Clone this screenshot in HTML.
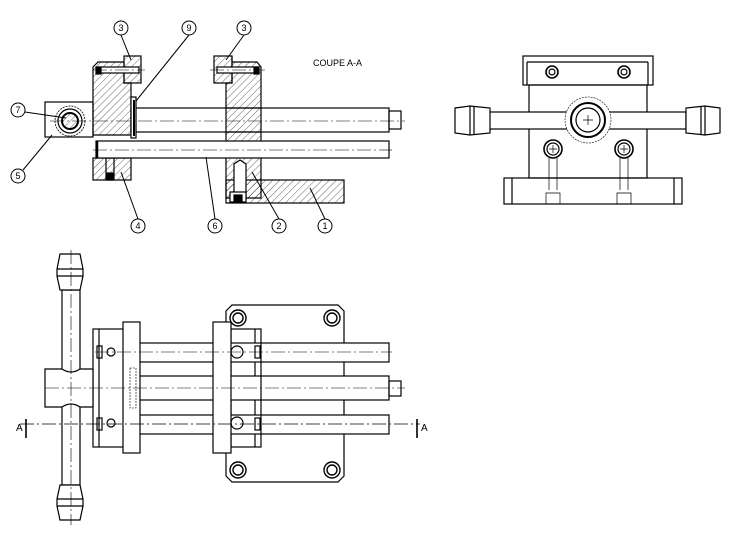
<!DOCTYPE html>
<html><head><meta charset="utf-8"><style>
html,body{margin:0;padding:0;background:#fff;}
svg{display:block;}
text{font-family:"Liberation Sans",sans-serif;}
</style></head><body>
<svg width="732" height="533" viewBox="0 0 732 533" xmlns="http://www.w3.org/2000/svg">
<defs>
<pattern id="h" width="5" height="5" patternUnits="userSpaceOnUse" patternTransform="rotate(45)">
<line x1="0" y1="0" x2="0" y2="5" stroke="#000" stroke-width="0.6"/>
</pattern>
</defs>
<g fill="none" stroke="#000" stroke-width="1.2">
<!-- ===== SECTION VIEW ===== -->
<!-- left block -->
<path d="M93,67 L98,62 L124,62 L124,83 L131,83 L131,135 L93,135 Z" fill="url(#h)"/>
<rect x="93" y="158" width="38" height="22" fill="url(#h)"/>
<rect x="124" y="56" width="17" height="27" fill="url(#h)"/>
<rect x="97" y="67" width="42" height="6" fill="#fff"/>
<rect x="96" y="67" width="5" height="7" fill="#000"/>
<rect x="106" y="158" width="8" height="22"/>
<rect x="107" y="173" width="6" height="7" fill="#000"/>
<!-- right block -->
<path d="M232,56 L232,62 L257,62 L261,67 L261,198 L226,198 L226,83 L232,83 Z" fill="url(#h)"/>
<rect x="214" y="56" width="18" height="27" fill="url(#h)"/>
<rect x="217" y="67" width="42" height="6" fill="#fff"/>
<rect x="254" y="67" width="5" height="7" fill="#000"/>
<rect x="226" y="180" width="118" height="23" fill="url(#h)"/>
<path d="M234,198 L234,164 L240,160 L246,164 L246,198" fill="#fff"/>
<rect x="230" y="192" width="16" height="10" fill="#fff"/>
<rect x="234" y="195" width="8" height="7" fill="#000"/>
<!-- handle hub and circle 7 -->
<rect x="45" y="102" width="48" height="35"/>
<circle cx="70" cy="121" r="15" stroke-dasharray="2 1" stroke-width="0.8"/>
<circle cx="70" cy="121" r="12"/>
<circle cx="70" cy="121" r="8" fill="url(#h)" stroke-width="2"/>
<!-- upper rod -->
<rect x="131" y="108" width="258" height="24" fill="#fff"/>
<rect x="389" y="111" width="12" height="18"/>
<rect x="226" y="108" width="35" height="24" fill="url(#h)"/>
<rect x="131" y="97" width="5" height="41" fill="#fff"/>
<line x1="134" y1="100" x2="134" y2="136" stroke-width="2"/>
<!-- lower rod -->
<rect x="96" y="141" width="293" height="17" fill="#fff"/>
<line x1="97" y1="141" x2="97" y2="158" stroke-width="2.5"/>
<!-- center lines -->
<g stroke-width="0.6" stroke-dasharray="14 3 2 3">
<line x1="50" y1="121" x2="405" y2="121"/>
<line x1="93" y1="150" x2="392" y2="150"/>
<line x1="93" y1="70" x2="145" y2="70"/>
<line x1="210" y1="70" x2="265" y2="70"/>
</g>
<!-- balloons -->
<g stroke-width="1">
<line x1="121" y1="35" x2="131" y2="60"/>
<line x1="189" y1="35" x2="136" y2="101"/>
<line x1="244" y1="35" x2="226" y2="60"/>
<line x1="25" y1="112" x2="66" y2="118"/>
<line x1="23" y1="170" x2="52" y2="135"/>
<line x1="138" y1="219" x2="121" y2="172"/>
<line x1="215" y1="219" x2="206" y2="157"/>
<line x1="279" y1="219" x2="252" y2="172"/>
<line x1="325" y1="219" x2="310" y2="188"/>
<circle cx="121" cy="28" r="7" fill="#fff"/>
<circle cx="189" cy="28" r="7" fill="#fff"/>
<circle cx="244" cy="28" r="7" fill="#fff"/>
<circle cx="18" cy="110" r="7" fill="#fff"/>
<circle cx="18" cy="176" r="7" fill="#fff"/>
<circle cx="138" cy="226" r="7" fill="#fff"/>
<circle cx="215" cy="226" r="7" fill="#fff"/>
<circle cx="279" cy="226" r="7" fill="#fff"/>
<circle cx="325" cy="226" r="7" fill="#fff"/>
</g>

<!-- ===== RIGHT VIEW ===== -->
<rect x="523" y="56" width="130" height="29"/>
<line x1="527" y1="62" x2="648" y2="62"/>
<line x1="527" y1="62" x2="527" y2="85"/><line x1="648" y1="62" x2="648" y2="85"/>
<rect x="529" y="85" width="118" height="93"/>
<line x1="529" y1="85" x2="647" y2="85" stroke-dasharray="2 1" stroke-width="0.6"/>
<rect x="504" y="178" width="178" height="26"/>
<line x1="512" y1="178" x2="512" y2="204"/><line x1="674" y1="178" x2="674" y2="204"/>
<rect x="463" y="112" width="223" height="17" fill="#fff"/>
<path d="M455,108 L470,106 L490,108 L490,133 L470,135 L455,133 Z" fill="#fff"/>
<line x1="470" y1="106" x2="470" y2="135"/><line x1="474" y1="106" x2="474" y2="135"/>
<path d="M720,108 L705,106 L686,108 L686,133 L705,135 L720,133 Z" fill="#fff"/>
<line x1="705" y1="106" x2="705" y2="135"/><line x1="701" y1="106" x2="701" y2="135"/>
<circle cx="588" cy="120" r="23" stroke-dasharray="2 1" stroke-width="0.6" fill="#fff"/>
<circle cx="588" cy="120" r="17" stroke-width="2"/>
<circle cx="588" cy="120" r="12"/>
<circle cx="552" cy="72" r="6" stroke-width="1.6"/><circle cx="552" cy="72" r="3"/>
<circle cx="624" cy="72" r="6" stroke-width="1.6"/><circle cx="624" cy="72" r="3"/>
<circle cx="553" cy="149" r="9" stroke-width="1.6"/><circle cx="553" cy="149" r="6"/>
<circle cx="624" cy="149" r="9" stroke-width="1.6"/><circle cx="624" cy="149" r="6"/>
<g stroke-width="0.7">
<path d="M549,158 L549,190 M557,158 L557,190 M546,193 h14 v11 h-14 Z"/>
<path d="M620,158 L620,190 M628,158 L628,190 M617,193 h14 v11 h-14 Z"/>
<path d="M583,120 h10 M588,115 v10 M549,149 h8 M553,145 v8 M620,149 h8 M624,145 v8"/>
</g>

<!-- ===== TOP VIEW ===== -->
<path d="M232,305 L338,305 L344,311 L344,476 L338,482 L232,482 L226,476 L226,311 Z"/>
<g stroke-width="1.4">
<circle cx="238" cy="318" r="8"/><circle cx="238" cy="318" r="5"/>
<circle cx="332" cy="318" r="8"/><circle cx="332" cy="318" r="5"/>
<circle cx="238" cy="470" r="8"/><circle cx="238" cy="470" r="5"/>
<circle cx="332" cy="470" r="8"/><circle cx="332" cy="470" r="5"/>
</g>
<rect x="93" y="329" width="38" height="118" fill="#fff"/>
<line x1="99" y1="329" x2="99" y2="447"/>
<rect x="231" y="329" width="30" height="118" fill="#fff"/>
<line x1="255" y1="329" x2="255" y2="447"/>
<rect x="131" y="343" width="258" height="19" fill="#fff"/>
<rect x="131" y="376" width="258" height="24" fill="#fff"/>
<rect x="389" y="381" width="12" height="15"/>
<rect x="131" y="415" width="258" height="19" fill="#fff"/>
<line x1="261" y1="343" x2="261" y2="362"/><line x1="261" y1="376" x2="261" y2="400"/><line x1="261" y1="415" x2="261" y2="434"/>
<rect x="123" y="322" width="17" height="131" fill="#fff"/>
<rect x="213" y="322" width="18" height="131" fill="#fff"/>
<rect x="130" y="368" width="6" height="40" stroke-dasharray="2 1" stroke-width="0.6"/>
<g stroke-width="1.2">
<circle cx="111" cy="352" r="4"/><circle cx="111" cy="423" r="4"/>
<circle cx="237" cy="352" r="6"/><circle cx="237" cy="423" r="6"/>
<rect x="97" y="346" width="5" height="12"/><rect x="97" y="418" width="5" height="12"/>
<rect x="255" y="346" width="5" height="12"/><rect x="255" y="418" width="5" height="12"/>
</g>
<!-- handle -->
<rect x="62" y="290" width="18" height="195" fill="#fff"/>
<path d="M45,369 L62,369 Q71,375 80,369 L93,369 L93,407 L80,407 Q71,401 62,407 L45,407 Z" fill="#fff"/>
<path d="M60,254 L80,254 L83,269 L83,276 L80,290 L60,290 L57,276 L57,269 Z" fill="#fff"/>
<line x1="57" y1="269" x2="83" y2="269"/><line x1="57" y1="276" x2="83" y2="276"/>
<path d="M60,485 L80,485 L83,499 L83,506 L80,520 L60,520 L57,506 L57,499 Z" fill="#fff"/>
<line x1="57" y1="499" x2="83" y2="499"/><line x1="57" y1="506" x2="83" y2="506"/>
<g stroke-width="0.6" stroke-dasharray="14 3 2 3">
<line x1="71" y1="250" x2="71" y2="525"/>
<line x1="95" y1="352" x2="392" y2="352"/>
<line x1="45" y1="388" x2="405" y2="388"/>
<line x1="20" y1="424" x2="420" y2="424" stroke-width="0.8"/>
</g>
<line x1="26" y1="419" x2="26" y2="438" stroke-width="1.6"/>
<line x1="417" y1="419" x2="417" y2="438" stroke-width="1.6"/>
</g>
<g font-size="9" text-anchor="middle" fill="#000">
<text x="121" y="31">3</text><text x="189" y="31">9</text><text x="244" y="31">3</text>
<text x="18" y="113">7</text><text x="18" y="179">5</text>
<text x="138" y="229">4</text><text x="215" y="229">6</text><text x="279" y="229">2</text><text x="325" y="229">1</text>
</g>
<text x="313" y="66" font-size="9" fill="#000">COUPE A-A</text>
<text x="16" y="431" font-size="10" fill="#000">A</text>
<text x="421" y="431" font-size="10" fill="#000">A</text>
</svg>
</body></html>
